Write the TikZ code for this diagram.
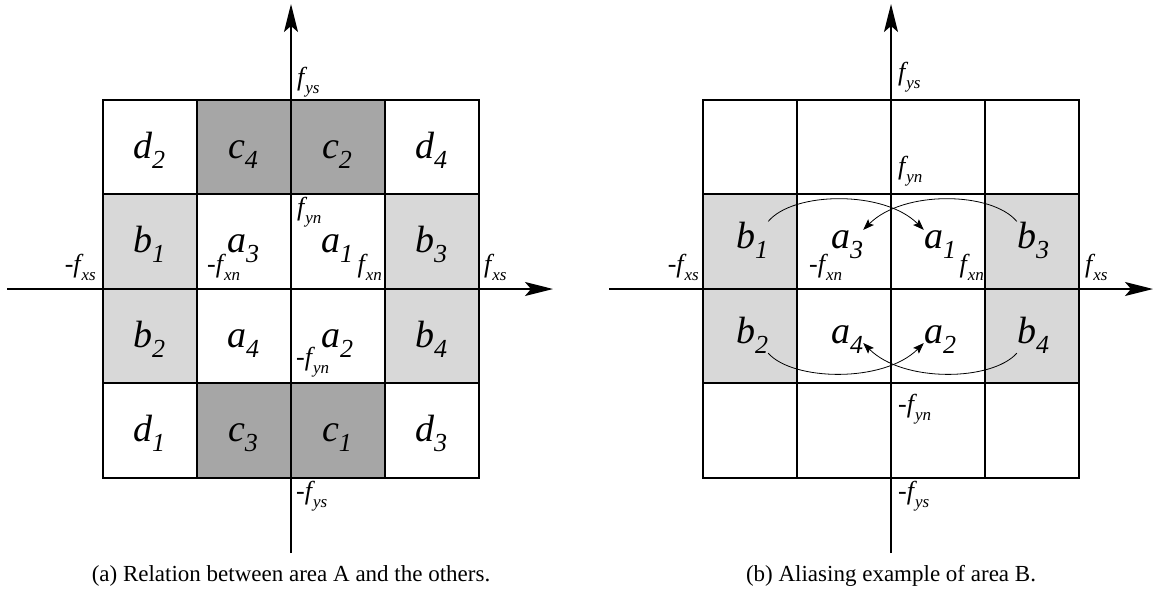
\documentclass[tikz,border=0pt]{standalone}
\usepackage{fontspec}
\setmainfont{Liberation Serif}
\usetikzlibrary{arrows.meta}

% cell label: italic letter with a large lowered index
\newcommand\celllab[2]{{\fontsize{38}{38}\selectfont\itshape #1\raisebox{-10pt}{\fontsize{26}{26}\selectfont #2}}}
% frequency label: optional sign, italic f, lowered italic index
\newcommand\freqlab[2]{{\fontsize{26}{26}\selectfont #1{\itshape f}\kern1pt\raisebox{-8pt}{\fontsize{17}{17}\selectfont\itshape #2}}}

\definecolor{bgray}{HTML}{D8D8D8}
\definecolor{cgray}{HTML}{A6A6A6}

\tikzset{
  gridline/.style={line width=1.7pt, line cap=rect},
  axisline/.style={line width=1.7pt, -{Stealth[length=28pt,width=14pt,inset=6pt]}},
  lab/.style={inner sep=0pt, anchor=base},
  flab/.style={inner sep=0pt},
  alias/.style={line width=0.8pt, -{Stealth[length=11pt,width=8pt,inset=2pt]}},
  caption/.style={inner sep=0pt, anchor=base, font=\fontsize{23}{23}\selectfont}
}

\begin{document}
\begin{tikzpicture}[x=1pt,y=-1pt]
\useasboundingbox (0,0) rectangle (1154,590);

% ---------------- panel (a) ----------------
\fill[cgray] (197,100) rectangle (385,194);
\fill[cgray] (197,383) rectangle (385,478);
\fill[bgray] (103,194) rectangle (197,383);
\fill[bgray] (385,194) rectangle (479,383);
\draw[gridline] (103,100) rectangle (479,478);
\foreach \x in {197,385} \draw[gridline] (\x,100) -- (\x,478);
\foreach \y in {194,383} \draw[gridline] (103,\y) -- (479,\y);

\coordinate (ahl) at (7,289);   \coordinate (ahr) at (553,289);
\coordinate (avb) at (291,553); \coordinate (avt) at (291,4);
\draw[axisline] (ahl) -- (ahr);
\draw[axisline] (avb) -- (avt);

\node[lab] (ad2) at (149,158) {\celllab{d}{2}};
\node[lab] (ac4) at (243,158) {\celllab{c}{4}};
\node[lab] (ac2) at (337,158) {\celllab{c}{2}};
\node[lab] (ad4) at (431,158) {\celllab{d}{4}};
\node[lab] (ab1) at (149,252) {\celllab{b}{1}};
\node[lab] (aa3) at (243,252) {\celllab{a}{3}};
\node[lab] (aa1) at (337,252) {\celllab{a}{1}};
\node[lab] (ab3) at (431,252) {\celllab{b}{3}};
\node[lab] (ab2) at (149,347) {\celllab{b}{2}};
\node[lab] (aa4) at (243,347) {\celllab{a}{4}};
\node[lab] (aa2) at (337,347) {\celllab{a}{2}};
\node[lab] (ab4) at (431,347) {\celllab{b}{4}};
\node[lab] (ad1) at (149,441) {\celllab{d}{1}};
\node[lab] (ac3) at (243,441) {\celllab{c}{3}};
\node[lab] (ac1) at (337,441) {\celllab{c}{1}};
\node[lab] (ad3) at (431,441) {\celllab{d}{3}};

\node[flab, anchor=base west] (afys)  at (297,85)  {\freqlab{}{ys}};
\node[flab, anchor=base west] (afyn)  at (297,215) {\freqlab{}{yn}};
\node[flab, anchor=base west] (amfxn) at (207,272) {\freqlab{-}{xn}};
\node[flab, anchor=base east] (afxn)  at (382,272) {\freqlab{}{xn}};
\node[flab, anchor=base west] (amfyn) at (296,365) {\freqlab{-}{yn}};
\node[flab, anchor=base east] (amfxs) at (96,272)  {\freqlab{-}{xs}};
\node[flab, anchor=base west] (afxs)  at (484,272) {\freqlab{}{xs}};
\node[flab, anchor=base west] (amfys) at (296,499) {\freqlab{-}{ys}};

\node[caption] (capa) at (291,581) {(a) Relation between area A and the others.};

% ---------------- panel (b) ----------------
\fill[bgray] (703,194) rectangle (797,383);
\fill[bgray] (985,194) rectangle (1079,383);
\draw[gridline] (703,100) rectangle (1079,478);
\foreach \x in {797,985} \draw[gridline] (\x,100) -- (\x,478);
\foreach \y in {194,383} \draw[gridline] (703,\y) -- (1079,\y);

\coordinate (bhl) at (609,289);  \coordinate (bhr) at (1153,289);
\coordinate (bvb) at (891,553);  \coordinate (bvt) at (891,4);
\draw[axisline] (bhl) -- (bhr);
\draw[axisline] (bvb) -- (bvt);

\node[lab] (bb1) at (752,248) {\celllab{b}{1}};
\node[lab] (ba3) at (847,248) {\celllab{a}{3}};
\node[lab] (ba1) at (940,248) {\celllab{a}{1}};
\node[lab] (bb3) at (1033,248) {\celllab{b}{3}};
\node[lab] (bb2) at (752,343) {\celllab{b}{2}};
\node[lab] (ba4) at (847,343) {\celllab{a}{4}};
\node[lab] (ba2) at (940,343) {\celllab{a}{2}};
\node[lab] (bb4) at (1033,343) {\celllab{b}{4}};

\node[flab, anchor=base west] (bfys)  at (898,80)  {\freqlab{}{ys}};
\node[flab, anchor=base west] (bfyn)  at (898,174) {\freqlab{}{yn}};
\node[flab, anchor=base west] (bmfxn) at (809,272) {\freqlab{-}{xn}};
\node[flab, anchor=base east] (bfxn)  at (984,272) {\freqlab{}{xn}};
\node[flab, anchor=base east] (bmfxs) at (699,272) {\freqlab{-}{xs}};
\node[flab, anchor=base west] (bfxs)  at (1085,272) {\freqlab{}{xs}};
\node[flab, anchor=base west] (bmfyn) at (898,412) {\freqlab{-}{yn}};
\node[flab, anchor=base west] (bmfys) at (898,499) {\freqlab{-}{ys}};

% aliasing of the B area onto the A area
\draw[alias] (bb1.north east) .. controls +(25,-30) and +(-40,-40) .. (ba1.north west);
\draw[alias] (bb3.north west) .. controls +(-25,-30) and +(40,-40) .. (ba3.north east);
\draw[alias] (bb2.south east) .. controls +(25,28) and +(-40,40) .. (ba2.base west);
\draw[alias] (bb4.south west) .. controls +(-25,28) and +(40,40) .. (ba4.base east);

\node[caption] (capb) at (891,581) {(b) Aliasing example of area B.};
\end{tikzpicture}
\end{document}
